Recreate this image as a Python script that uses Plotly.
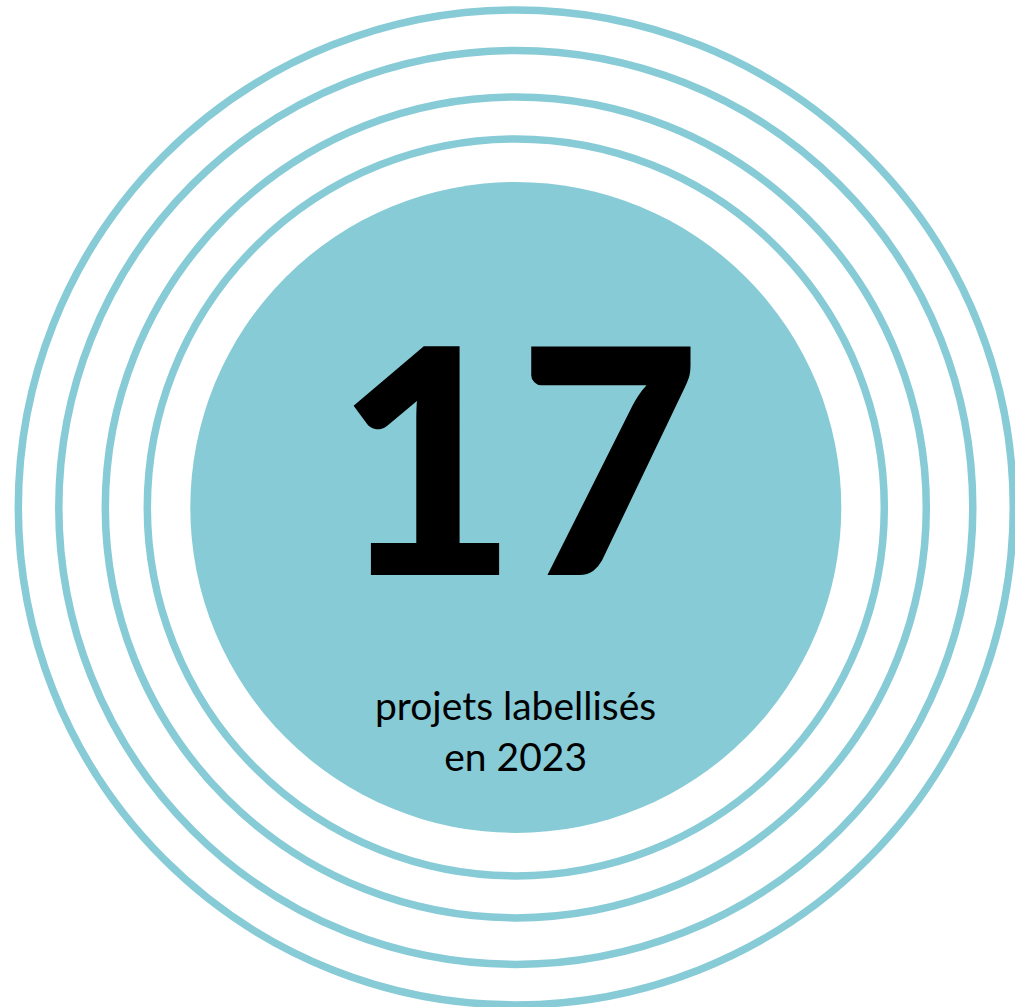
import plotly.graph_objects as go

# ---- data ----
value_label = "17"
caption_lines = ["projets labellisés", "en 2023"]
ring_radii = [368.5, 410.5, 457.0, 497.5]   # outline rings (px units)
disc_radius = 325.5                          # filled centre disc
center = [515.8, 507.4]

W, H = 1015, 1007
teal = "#87CBD6"

fig = go.Figure()
fig.add_trace(go.Scatter(x=[center[0]], y=[center[1]], mode="markers",
                         marker=dict(size=1, color="rgba(0,0,0,0)"),
                         hoverinfo="skip", showlegend=False))

shapes = []
for r in ring_radii:
    shapes.append(dict(type="circle", xref="x", yref="y",
                       x0=center[0] - r, x1=center[0] + r,
                       y0=center[1] - r, y1=center[1] + r,
                       line=dict(color=teal, width=7.5), fillcolor="rgba(0,0,0,0)",
                       layer="below"))
shapes.append(dict(type="circle", xref="x", yref="y",
                   x0=center[0] - disc_radius, x1=center[0] + disc_radius,
                   y0=center[1] - disc_radius, y1=center[1] + disc_radius,
                   line=dict(width=0), fillcolor=teal, layer="below"))

annotations = [
    dict(x=center[0] + 2, y=453, xref="x", yref="y", text=value_label, showarrow=False,
         font=dict(family="Lato", size=315, color="black", weight=900),
         xanchor="center", yanchor="middle"),
    dict(x=center[0], y=730, xref="x", yref="y", text="<br>".join(caption_lines),
         showarrow=False, align="center",
         font=dict(family="Lato", size=39, color="black"),
         xanchor="center", yanchor="middle"),
]

fig.update_layout(
    width=W, height=H, margin=dict(l=0, r=0, t=0, b=0),
    paper_bgcolor="white", plot_bgcolor="white",
    xaxis=dict(range=[0, W], visible=False, fixedrange=True),
    yaxis=dict(range=[H, 0], visible=False, fixedrange=True),
    shapes=shapes, annotations=annotations, showlegend=False,
)

fig.write_html("out.html", config={"displayModeBar": False},
               post_script="document.body.style.margin='0';document.body.style.overflow='hidden';")
